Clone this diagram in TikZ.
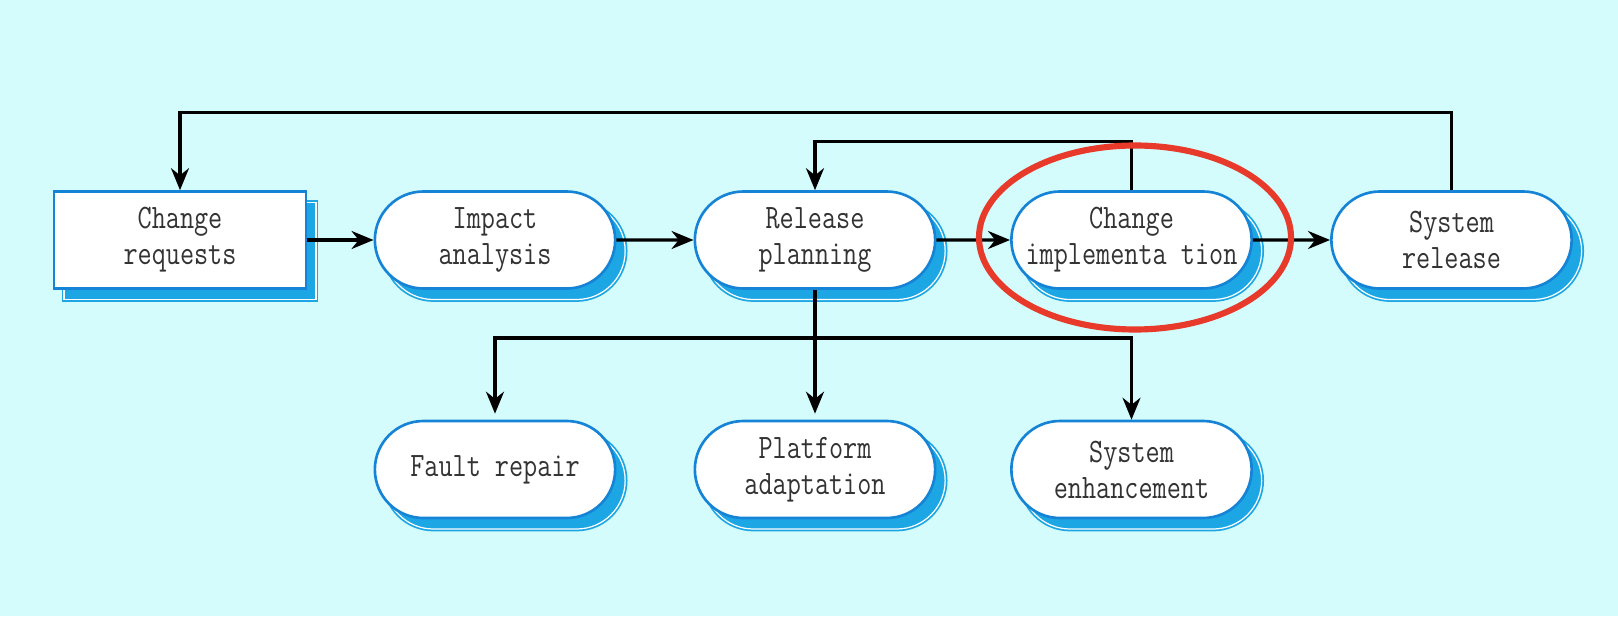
\documentclass[tikz,border=0pt]{standalone}
\usepackage{fontspec}
\newfontfamily\boxfont[FakeStretch=0.8]{Latin Modern Mono}
\usetikzlibrary{shapes.misc,shadows,arrows.meta}
\definecolor{bgcyan}{RGB}{212,252,252}
\definecolor{boxblue}{RGB}{22,132,214}
\definecolor{shadeblue}{RGB}{28,166,228}
\definecolor{ringred}{RGB}{232,58,42}
\definecolor{textgray}{RGB}{51,51,51}

\begin{document}
\begin{tikzpicture}[
    base/.style={draw=boxblue, line width=1.5pt, fill=white, text=textgray,
      minimum width=5.04cm, minimum height=1.94cm, align=center,
      font=\boxfont\fontsize{19.5}{20.5}\selectfont,
      general shadow={shadow xshift=0.2cm, shadow yshift=-0.22cm, fill=shadeblue,
        draw=shadeblue, double=white, double distance=0.7pt, line width=1pt}},
    pill/.style={base, rounded rectangle},
    card/.style={base, rectangle},
    link/.style={-{Stealth[length=0.44cm, width=0.36cm]}, line width=1.8pt}
  ]
  \fill[bgcyan] (0,0) rectangle (32.36,12.32);
  \useasboundingbox (0,0) rectangle (32.36,12.32);

  \node[card] (req) at (3.6,7.52) {Change\\requests};
  \node[pill] (impact) at (9.9,7.52) {Impact\\analysis};
  \node[pill] (plan) at (16.3,7.52) {Release\\planning};
  \node[pill] (impl) at (22.63,7.52) {Change\\implementa tion};
  \node[pill] (sysrel) at (29.03,7.52) {System\\release};

  \node[pill] (fault) at (9.9,2.93) {Fault repair};
  \node[pill] (adapt) at (16.3,2.93) {Platform\\adaptation};
  \node[pill] (enhance) at (22.63,2.93) {System\\enhancement};

  \draw[link] (req) -- (impact);
  \draw[link] (impact) -- (plan);
  \draw[link] (plan) -- (impl);
  \draw[link] (impl) -- (sysrel);

  % feedback loops
  \draw[link] (sysrel.north) -- ++(0,1.56) -| (req.north);
  \draw[link] (impl.north) -- ++(0,0.97) -| (plan.north);

  % change types
  \coordinate (bus) at (16.3,5.56);
  \draw[line width=1.8pt] (plan.south) -- (bus);
  \draw[link, shorten >=0.12cm] (bus) -- (adapt.north);
  \draw[link, shorten >=0.12cm] (bus) -| (fault.north);
  \draw[link] (bus) -| (enhance.north);

  \draw[ringred, line width=3.5pt] (22.7,7.57) ellipse (3.12cm and 1.84cm);
\end{tikzpicture}
\end{document}
